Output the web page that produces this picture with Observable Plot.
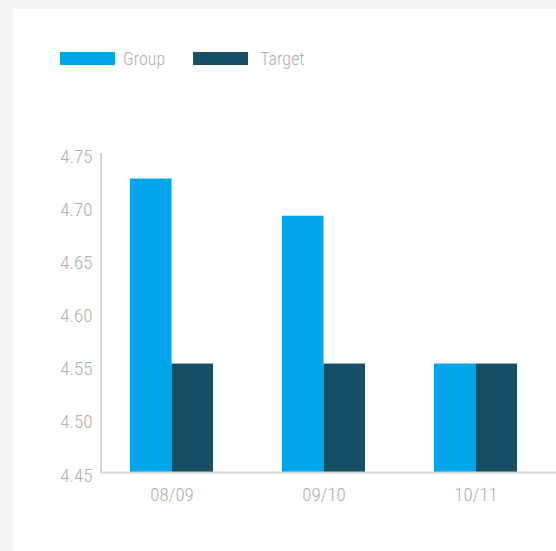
<!DOCTYPE html>
<html>
<head>
<meta charset="utf-8">
<script src="https://cdn.jsdelivr.net/npm/d3@7"></script>
<script src="https://cdn.jsdelivr.net/npm/@observablehq/plot@0.6"></script>
<style>
  html, body { margin: 0; padding: 0; background: #f4f4f4; width: 556px; height: 551px; overflow: hidden; }
  #panel { position: absolute; left: 13px; top: 9px; width: 543px; height: 542px; background: #fff; }
  #chart { position: absolute; left: 0; top: 0; }
  .legend { position: absolute; top: 48px; left: 60px; font-family: "Roboto Condensed", "Liberation Sans Narrow", Roboto, sans-serif; font-weight: 300; font-size: 18px; color: #aeaeae; display: flex; align-items: center; }
  .legend .item { display: flex; align-items: center; }
  .legend .sw { width: 55px; height: 13px; }
  .legend .item:first-child .sw { margin-right: 8px; }
  .legend .item:first-child { margin-right: 28px; }
  .legend .item + .item .sw { margin-right: 12px; }
</style>
</head>
<body>
<div id="panel"></div>
<div id="chart"></div>
<div class="legend" id="legend"></div>
<script>
const periods = ["08/09", "09/10", "10/11"];
const groupValues = [4.726, 4.691, 4.552];
const targetValues = [4.552, 4.552, 4.552];
const seriesNames = ["Group", "Target"];
const seriesColors = ["#00a6e9", "#164f66"];
const yTicks = [4.45, 4.50, 4.55, 4.60, 4.65, 4.70, 4.75];

const groupData = periods.map((p, i) => ({period: p, value: groupValues[i]}));
const targetData = periods.map((p, i) => ({period: p, value: targetValues[i]}));

const fontFamily = '"Roboto Condensed", "Liberation Sans Narrow", Roboto, sans-serif';

const plot = Plot.plot({
  width: 556,
  height: 551,
  marginLeft: 101,
  marginRight: 0,
  marginTop: 153,
  marginBottom: 79,
  style: {background: "transparent", fontFamily, fontSize: "19px", fontWeight: 300, color: "#aeaeae"},
  x: {domain: periods, range: [128.5, 517.5], paddingInner: 0.457, paddingOuter: 0, label: null},
  y: {domain: [4.45, 4.75], label: null},
  marks: [
    Plot.barY(groupData, {x: "period", y1: 4.45, y2: "value", fill: seriesColors[0], insetRight: 41.5, insetLeft: 0}),
    Plot.barY(targetData, {x: "period", y1: 4.45, y2: "value", fill: seriesColors[1], insetLeft: 41.5, insetRight: 0}),
    Plot.axisY({ticks: yTicks, tickFormat: d3.format(".2f"), tickSize: 0, tickPadding: 9, dy: 3, fill: "#aeaeae", fontSize: 19, fontWeight: 300}),
    Plot.axisX({tickSize: 0, tickPadding: 15, fill: "#aeaeae", fontSize: 19, fontWeight: 300}),
    Plot.ruleY([4.45], {stroke: "#d3d3d3", strokeWidth: 2})
  ]
});
document.getElementById("chart").appendChild(plot);

// y axis line drawn on the plot's y scale
const svg = d3.select(plot);
const ys = plot.scale("y");
svg.append("line")
  .attr("x1", 101).attr("x2", 101)
  .attr("y1", ys.apply(4.75)).attr("y2", ys.apply(4.45) + 1)
  .attr("stroke", "#d3d3d3").attr("stroke-width", 2);

const legend = document.getElementById("legend");
seriesNames.forEach((name, i) => {
  const item = document.createElement("div");
  item.className = "item";
  const sw = document.createElement("div");
  sw.className = "sw";
  sw.style.background = seriesColors[i];
  const label = document.createElement("span");
  label.textContent = name;
  item.appendChild(sw);
  item.appendChild(label);
  legend.appendChild(item);
});
</script>
</body>
</html>
